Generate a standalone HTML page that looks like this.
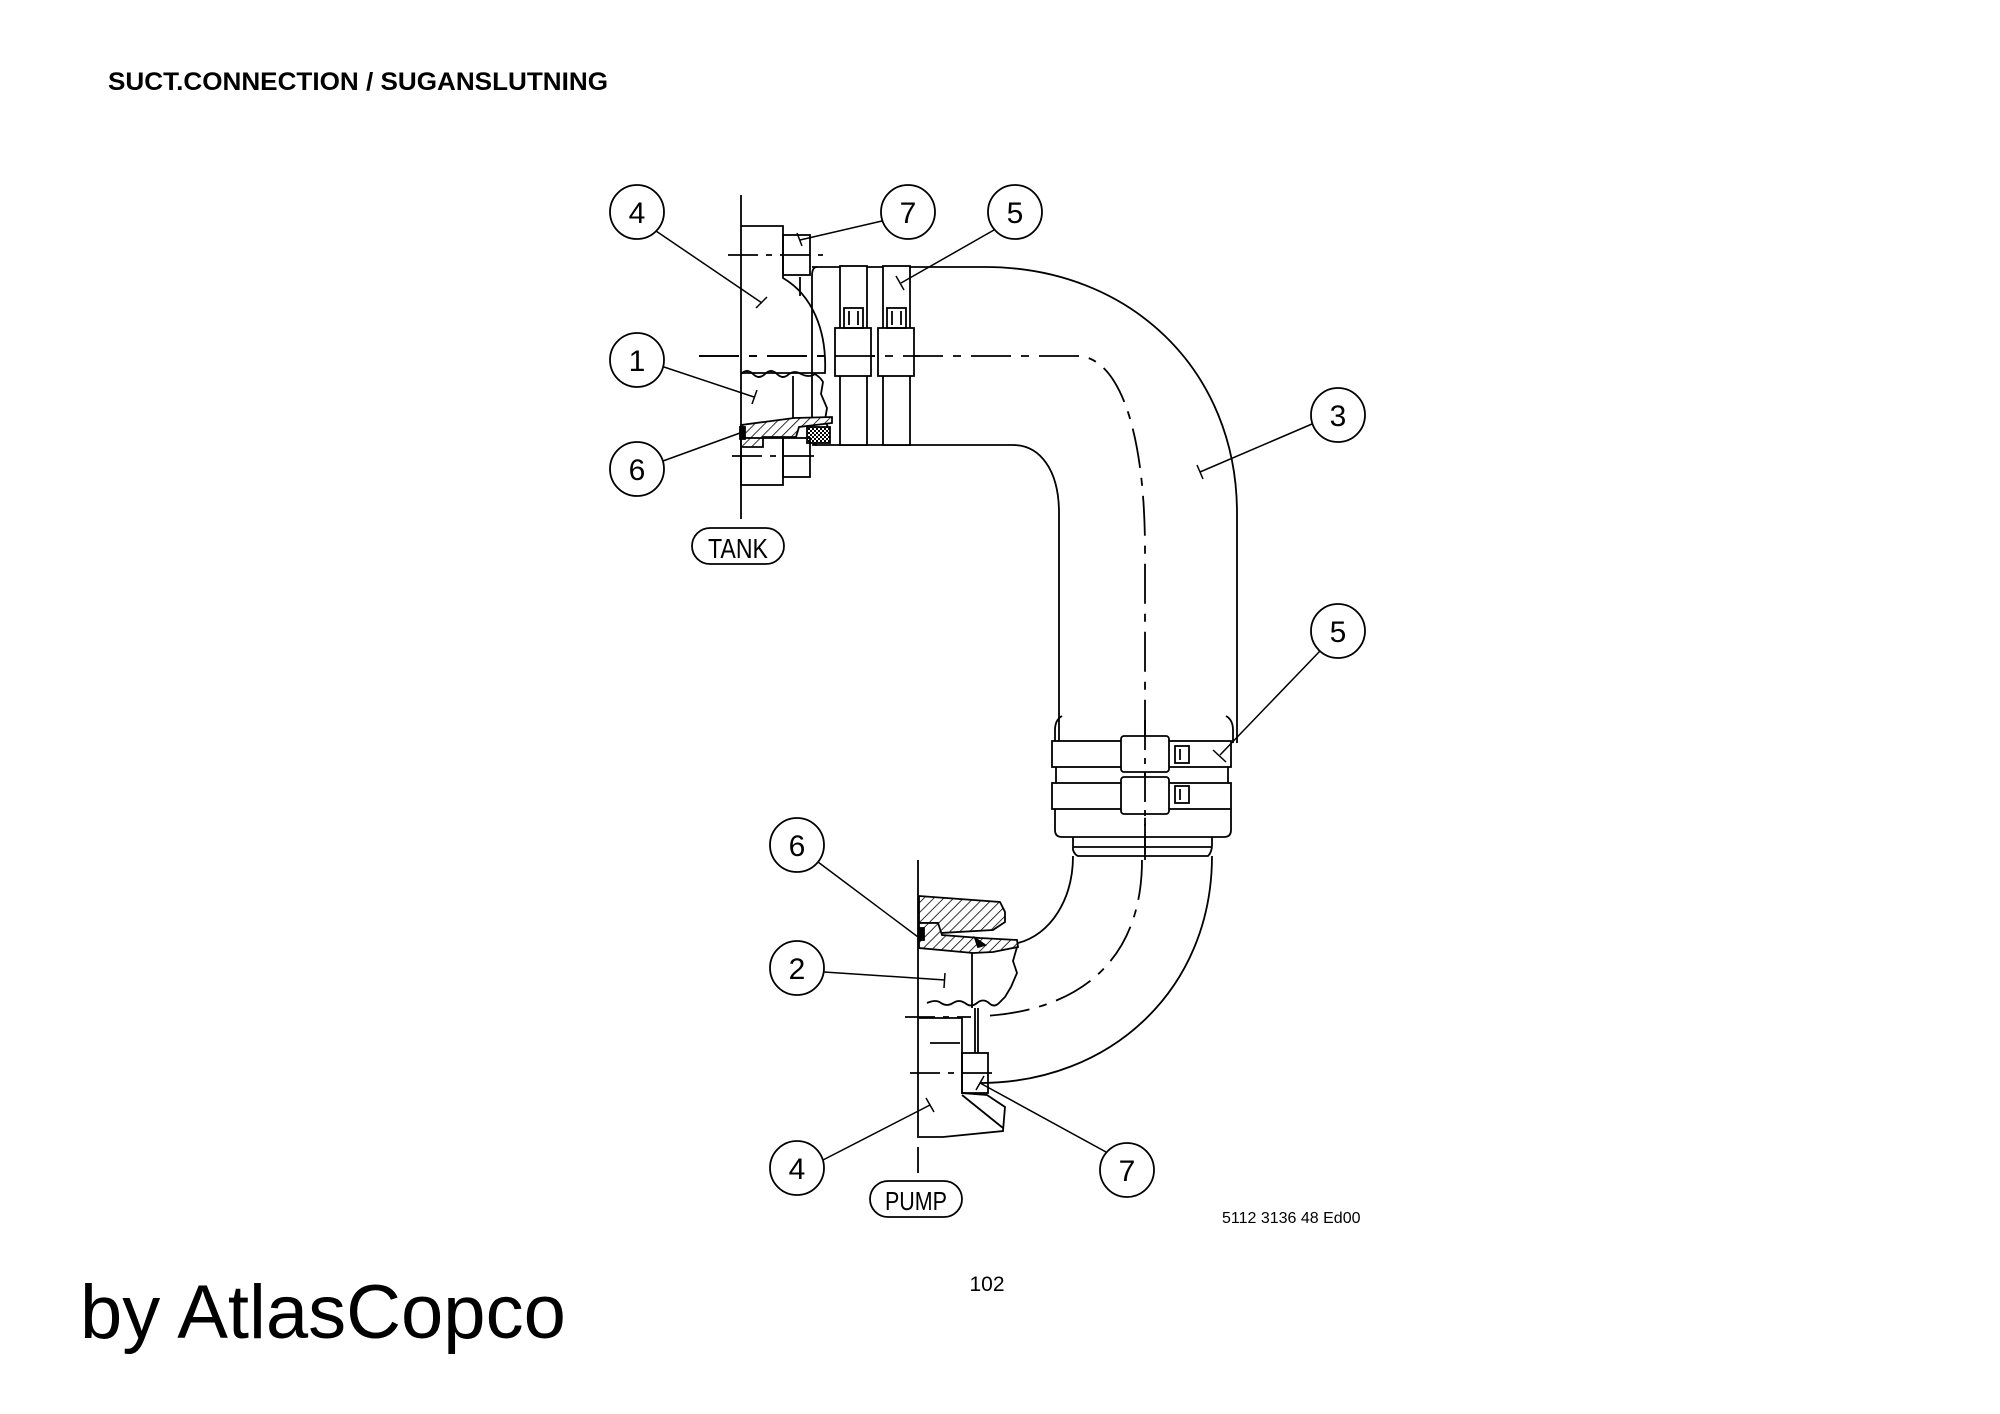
<!DOCTYPE html>
<html><head><meta charset="utf-8"><style>
html,body{margin:0;padding:0;background:#fff;}
svg{display:block;}
text{font-family:"Liberation Sans",sans-serif;}
</style></head><body>
<svg width="2000" height="1414" viewBox="0 0 2000 1414" xmlns="http://www.w3.org/2000/svg">
<defs>
<pattern id="h" width="7" height="7" patternUnits="userSpaceOnUse" patternTransform="rotate(45)">
<rect width="7" height="7" fill="#fff"/><line x1="0" y1="0" x2="0" y2="7" stroke="#000" stroke-width="1.6"/></pattern>
<pattern id="k" width="4" height="4" patternUnits="userSpaceOnUse">
<rect width="4" height="4" fill="#fff"/><rect width="2" height="2" fill="#000"/><rect x="2" y="2" width="2" height="2" fill="#000"/></pattern>
</defs>
<text x="108" y="90" font-size="25" font-weight="bold" textLength="500" lengthAdjust="spacingAndGlyphs">SUCT.CONNECTION / SUGANSLUTNING</text>

<g fill="none" stroke="#000" stroke-width="1.8">
<line x1="741" y1="195" x2="741" y2="519"/>
<path d="M910 267 L985 267 C1130 267 1237 370 1237 513 L1237 743"/>
<path d="M910 445 L1013 445 C1040 445 1059 470 1059 513 L1059 743"/>
<path d="M699 356 L1077 356 C1115 356 1145 420 1145 551 L1145 860" stroke-dasharray="40 10 8 10"/>
<path d="M812 267 L910 267 M812 445 L910 445"/>
<path d="M817 267 Q812 267 812 276 L812 436 Q812 445 817 445"/>
<rect x="840" y="266" width="27" height="179" fill="#fff"/>
<rect x="883" y="266" width="27" height="179" fill="#fff"/>
<rect x="835" y="328" width="36" height="48" fill="#fff"/>
<rect x="878" y="328" width="36" height="48" fill="#fff"/>
<rect x="844" y="308" width="19" height="20"/>
<rect x="887" y="308" width="19" height="20"/>
<line x1="849" y1="311" x2="849" y2="325"/><line x1="858" y1="311" x2="858" y2="325"/>
<line x1="892" y1="311" x2="892" y2="325"/><line x1="901" y1="311" x2="901" y2="325"/>
<line x1="699" y1="356" x2="920" y2="356" stroke-dasharray="40 10 8 10"/>
<path d="M741 226 L783 226 L783 278 C812 295 827 330 825 373 L741 373"/>
<rect x="783" y="235" width="27" height="40"/>
<line x1="800" y1="277" x2="800" y2="296"/>
<line x1="728" y1="255" x2="823" y2="255" stroke-dasharray="30 8 6 8"/>
<path d="M741 374 q6 -6 12 0 q6 6 12 0 q6 -6 12 0 q6 6 12 0 q6 -4 12 0 q8 4 14 0 q6 4 8 8 l-2 12 l6 14 l-2 12 l4 10"/>
<line x1="793" y1="376" x2="793" y2="418"/>
<path d="M741 425 L794 418 L832 417 L832 423 L799 427 L796 437 L763 437 L763 447 L741 447 Z" fill="url(#h)"/>
<rect x="807" y="427" width="23" height="16" fill="url(#k)"/>
<rect x="741" y="438" width="42" height="47"/>
<rect x="783" y="438" width="27" height="39"/>
<line x1="732" y1="456" x2="821" y2="456" stroke-dasharray="30 8 6 8"/>
<rect x="740" y="427" width="5" height="12" fill="#000"/>

<path d="M1055 743 L1055 730 Q1055 720 1062 716 M1233 743 L1233 730 Q1233 720 1226 716"/>
<rect x="1052" y="741" width="179" height="26" fill="#fff"/>
<rect x="1052" y="783" width="179" height="26" fill="#fff"/>
<line x1="1056" y1="767" x2="1056" y2="783"/><line x1="1228" y1="767" x2="1228" y2="783"/>
<rect x="1121" y="736" width="48" height="36" rx="3" fill="#fff"/>
<rect x="1121" y="777" width="48" height="37" rx="3" fill="#fff"/>
<rect x="1175" y="746" width="14" height="17"/><rect x="1175" y="786" width="14" height="17"/>
<line x1="1180" y1="749" x2="1180" y2="760"/><line x1="1180" y1="789" x2="1180" y2="800"/>
<path d="M1055 809 L1055 830 Q1055 837 1062 837 L1224 837 Q1231 837 1231 830 L1231 809"/>
<path d="M1073 837 L1073 850 Q1075 855 1078 856 L1208 856 Q1212 852 1212 845 L1212 837"/>
<line x1="1073" y1="847" x2="1212" y2="847"/>
<line x1="1145" y1="720" x2="1145" y2="860" stroke-dasharray="30 8 6 8"/>
<path d="M1212 856 C1212 990 1110 1083 980 1083"/>
<path d="M1073 856 C1073 900 1050 935 1018 943"/>
<path d="M1142 860 C1142 960 1080 1010 985 1016" stroke-dasharray="40 10 8 10"/>
<line x1="918" y1="860" x2="918" y2="1138"/>
<line x1="918" y1="1147" x2="918" y2="1173"/>
<path d="M919 896 L1000 902 L1005 912 L1005 922 L993 930 L940 933 L938 923 L919 923 Z" fill="url(#h)"/>
<path d="M919 923 L938 923 L942 935 L980 938 L1017 940 L1018 947 L993 952 L973 953 L919 948 Z" fill="url(#h)"/>
<rect x="919" y="928" width="5" height="12" fill="#000"/>
<path d="M975 938 L985 945 L978 947 Z" fill="#000"/>
<line x1="972" y1="953" x2="972" y2="1008"/>
<path d="M1017 947 l-4 14 l4 12 l-6 14 l-6 10 l-6 6 q-5 5 -10 0 q-6 -5 -12 0 q-6 5 -12 0 q-6 -4 -12 0 q-6 4 -12 0 q-5 -4 -14 0"/>
<path d="M919 1018 L962 1018 L962 1093 L987 1095 L1005 1107 L1003 1131 L943 1137 L919 1137"/>
<line x1="962" y1="1095" x2="1003" y2="1128"/>
<rect x="962" y="1053" width="26" height="40"/>
<line x1="975" y1="1008" x2="975" y2="1053"/><line x1="978" y1="1008" x2="978" y2="1053"/>
<line x1="905" y1="1017" x2="971" y2="1017" stroke-dasharray="30 8 6 8"/>
<line x1="910" y1="1073" x2="1000" y2="1073" stroke-dasharray="30 8 6 8"/>
<line x1="930" y1="1043" x2="960" y2="1043"/>

<circle cx="637" cy="212" r="27"/><circle cx="908" cy="212" r="27"/><circle cx="1015" cy="212" r="27"/>
<circle cx="637" cy="360" r="27"/><circle cx="637" cy="469" r="27"/>
<circle cx="1338" cy="415" r="27"/><circle cx="1338" cy="631" r="27"/>
<circle cx="797" cy="845" r="27"/><circle cx="797" cy="968" r="27"/>
<circle cx="797" cy="1168" r="27"/><circle cx="1127" cy="1170" r="27"/>
<g stroke-width="1.5">
<line x1="656" y1="231" x2="762" y2="303"/><line x1="756" y1="308" x2="767" y2="297"/>
<line x1="882" y1="221" x2="800" y2="240"/><line x1="797" y1="233" x2="802" y2="246"/>
<line x1="994" y1="230" x2="901" y2="283"/><line x1="896" y1="276" x2="904" y2="290"/>
<line x1="664" y1="367" x2="754" y2="397"/><line x1="757" y1="390" x2="752" y2="404"/>
<line x1="663" y1="461" x2="740" y2="433"/>
<line x1="1312" y1="424" x2="1200" y2="472"/><line x1="1197" y1="465" x2="1203" y2="479"/>
<line x1="1320" y1="651" x2="1220" y2="755"/><line x1="1213" y1="750" x2="1226" y2="762"/>
<line x1="818" y1="862" x2="918" y2="937"/>
<line x1="824" y1="972" x2="945" y2="980"/><line x1="945" y1="973" x2="944" y2="988"/>
<line x1="823" y1="1160" x2="930" y2="1105"/><line x1="926" y1="1098" x2="934" y2="1112"/>
<line x1="1106" y1="1152" x2="980" y2="1083"/><line x1="984" y1="1076" x2="976" y2="1090"/>
</g>
<rect x="692" y="528" width="92" height="36" rx="18"/>
<rect x="870" y="1181" width="92" height="36" rx="18"/>
</g>
<g font-size="30" text-anchor="middle" font-family="'DejaVu Sans Condensed','Liberation Sans Narrow',sans-serif" font-weight="200">
<text x="637" y="223">4</text><text x="908" y="223">7</text><text x="1015" y="223">5</text>
<text x="637" y="371">1</text><text x="637" y="480">6</text>
<text x="1338" y="426">3</text><text x="1338" y="642">5</text>
<text x="797" y="856">6</text><text x="797" y="979">2</text>
<text x="797" y="1179">4</text><text x="1127" y="1181">7</text>
<text x="738" y="558" font-size="28" textLength="60" lengthAdjust="spacingAndGlyphs">TANK</text>
<text x="916" y="1210" font-size="26" textLength="62" lengthAdjust="spacingAndGlyphs">PUMP</text>
</g>
<text x="1222" y="1223" font-size="16">5112  3136 48 Ed00</text>
<text x="987" y="1291" font-size="21" text-anchor="middle">102</text>
<text x="80" y="1338" font-size="76">by AtlasCopco</text>
</svg>
</body></html>
